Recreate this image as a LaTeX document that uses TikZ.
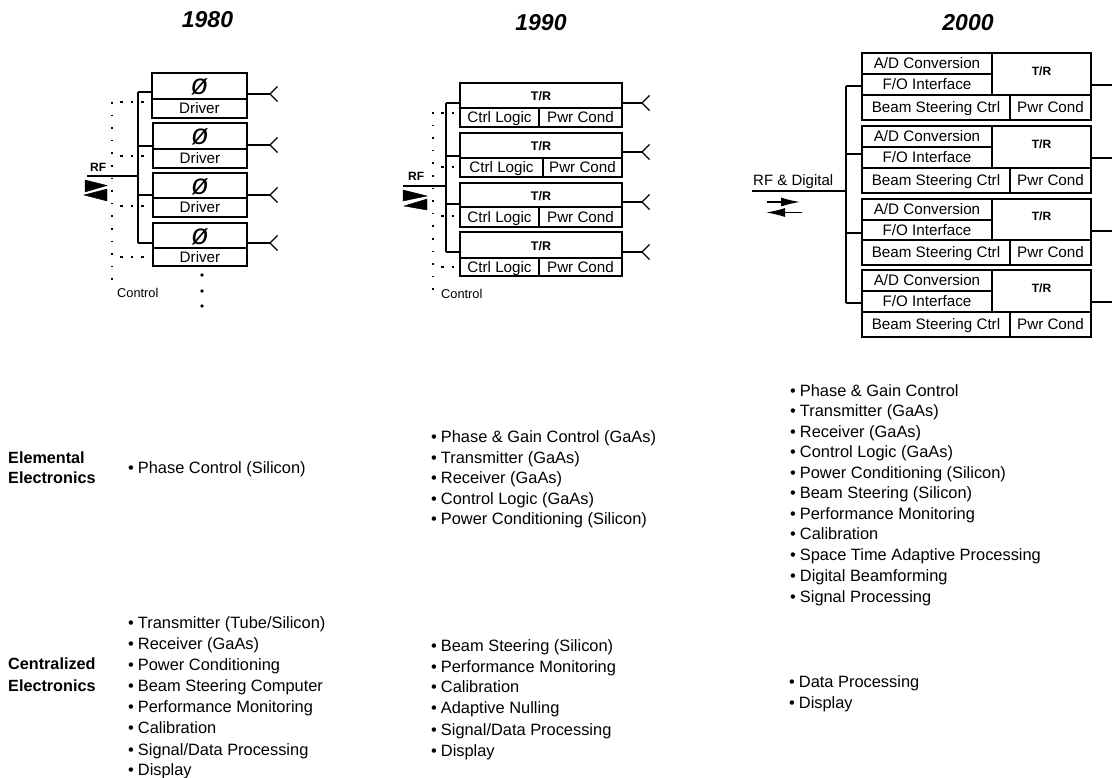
\documentclass[tikz,border=0pt]{standalone}
\usepackage{fontspec}
\setmainfont{Liberation Sans}
\usetikzlibrary{arrows.meta}
\newcommand{\fsz}[1]{\fontsize{#1}{#1}\selectfont}
\tikzset{
  cellbox/.style={draw=black,line width=1.3pt,inner sep=0pt,outer sep=0pt,font=\fsz{15.2},text height=10.8pt,text depth=0pt,align=center},
  wire/.style={draw=black,line width=1.3pt},
  ctrl/.style={draw=black,line width=1.3pt,dash pattern=on 1.6pt off 11pt},
  ctrlh/.style={draw=black,line width=1.1pt,dash pattern=on 2.5pt off 8pt},
  item/.style={anchor=west,inner sep=0pt,font=\fsz{16.4},text height=11.7pt,text depth=0pt},
  head/.style={anchor=west,inner sep=0pt,font=\bfseries\fsz{16.2},text height=11.7pt,text depth=0pt},
  yeartitle/.style={inner sep=0pt,font=\bfseries\itshape\fsz{23}},
  small/.style={inner sep=0pt,anchor=west,font=\fsz{12.8},text height=9pt,text depth=0pt},
  bigarrow/.style={fill=black,draw=black,line width=.4pt},
  dotmark/.style={circle,fill=black,inner sep=0pt,minimum size=3.6pt}
}
\newcommand{\mycell}[6]{\node[cellbox,minimum width={(#4-#2)*1pt},minimum height={(#5-#3)*1pt}] (#1) at ({(#2+#4)/2},{(#3+#5)/2}) {#6};}
\newcommand{\stub}[4]{\coordinate (#1) at (#2,#3); \draw[wire] (#1) -- (#1 -| #4.west);}
\newcommand{\antenna}[5]{\coordinate (#1) at (#3,#4); \coordinate (#1u) at (#3+7.5,#4-7.5); \coordinate (#1d) at (#3+7.5,#4+7.5);
  \draw[wire] (#2.east |- #1) -- (#1); \draw[wire] (#1u) -- (#1) -- (#1d);}
\newcommand{\phig}{\raisebox{-3.5pt}{\itshape\fsz{29}ø}}
\newcommand{\trt}{\bfseries\fsz{12.5}T/R}
\newcommand{\trb}{\bfseries\fsz{12}\raisebox{4pt}{T/R}}
\begin{document}
\begin{tikzpicture}[x=1pt,y=-1pt]
\useasboundingbox (0,0) rectangle (1112,778);
\node[yeartitle] (y1) at (207.5,20) {1980};
\node[yeartitle] (y2) at (541,23) {1990};
\node[yeartitle] (y3) at (968,23) {2000};

% ---------- 1980
\mycell{aa}{152}{73}{247}{99}{\phig}
\mycell{ab}{152}{99}{247}{118}{Driver}
\mycell{ba}{153}{123}{247}{149}{\phig}
\mycell{bb}{153}{149}{247}{168}{Driver}
\mycell{ca}{153}{173}{247}{198}{\phig}
\mycell{cb}{153}{198}{247}{217}{Driver}
\mycell{da}{153}{223}{247}{248}{\phig}
\mycell{db}{153}{248}{247}{266}{Driver}
\stub{s1}{138}{92}{aa}
\stub{s2}{138}{146}{ba}
\stub{s3}{138}{195}{ca}
\stub{s4}{138}{243}{da}
\draw[wire] (s1) -- (s4);
\coordinate (rf1r) at (138,176); \coordinate (rf1l) at (87,176);
\draw[wire] (rf1l) -- (rf1r);
\antenna{an1}{aa}{270}{94}{}
\antenna{an2}{ba}{270}{145}{}
\antenna{an3}{ca}{270}{195}{}
\antenna{an4}{da}{270}{243}{}
\coordinate (c1t) at (112,102); \coordinate (c1b) at (112,287);
\draw[ctrl] (c1t) -- (c1b);
\foreach \yy/\nn in {102/ab,156/bb,206/cb,257/db}{
  \coordinate (h) at (120,\yy);
  \draw[ctrlh] (h) -- (h -| \nn.west);
}
\node[small,font=\bfseries\fsz{12}] (rf1) at (90,167) {RF};
\node[small] (ctl1) at (117,293) {Control};
\filldraw[bigarrow] (85,180) -- (107,185.5) -- (85,192) -- cycle;
\filldraw[bigarrow] (107,189) -- (84,195) -- (107,201) -- cycle;
\node[dotmark] (d1) at (202,275) {};
\node[dotmark] (d2) at (202,291) {};
\node[dotmark] (d3) at (202,306) {};

% ---------- 1990
\mycell{ea}{460}{83}{622}{108}{\trt}
\mycell{eb}{460}{108}{539}{127}{Ctrl Logic}
\mycell{ec}{539}{108}{622}{127}{Pwr Cond}
\mycell{fa}{460}{133}{622}{158}{\trt}
\mycell{fb}{460}{158}{543}{177}{Ctrl Logic}
\mycell{fc}{543}{158}{622}{177}{Pwr Cond}
\mycell{ga}{460}{183}{622}{207}{\trt}
\mycell{gb}{460}{207}{539}{227}{Ctrl Logic}
\mycell{gc}{539}{207}{622}{227}{Pwr Cond}
\mycell{ha}{460}{232}{622}{258}{\trt}
\mycell{hb}{460}{258}{539}{276}{Ctrl Logic}
\mycell{hc}{539}{258}{622}{276}{Pwr Cond}
\stub{t1}{446}{103}{ea}
\stub{t2}{446}{156}{fa}
\stub{t3}{446}{204}{ga}
\stub{t4}{446}{252}{ha}
\draw[wire] (t1) -- (t4);
\coordinate (rf2r) at (446,186); \coordinate (rf2l) at (403,186);
\draw[wire] (rf2l) -- (rf2r);
\antenna{bn1}{ea}{642}{103}{}
\antenna{bn2}{fa}{642}{152}{}
\antenna{bn3}{ga}{642}{202}{}
\antenna{bn4}{ha}{642}{252}{}
\coordinate (c2t) at (433,112); \coordinate (c2b) at (433,301);
\draw[ctrl] (c2t) -- (c2b);
\foreach \yy/\nn in {113/eb,167/fb,216/gb,267/hb}{
  \coordinate (h) at (441,\yy);
  \draw[ctrlh] (h) -- (h -| \nn.west);
}
\node[small,font=\bfseries\fsz{12}] (rf2) at (408,176) {RF};
\node[small] (ctl2) at (441,294) {Control};
\filldraw[bigarrow] (403,190) -- (427,196) -- (403,201) -- cycle;
\filldraw[bigarrow] (427,199) -- (404,206) -- (427,210) -- cycle;

% ---------- 2000
\mycell{ia}{862}{53}{992}{74}{A/D Conversion}
\mycell{ib}{862}{74}{992}{95}{F/O Interface}
\mycell{ic}{992}{53}{1091}{95}{\trb}
\mycell{id}{862}{95}{1010}{120}{Beam Steering Ctrl}
\mycell{ie}{1010}{95}{1091}{120}{Pwr Cond}
\mycell{ja}{862}{126}{992}{147}{A/D Conversion}
\mycell{jb}{862}{147}{992}{168}{F/O Interface}
\mycell{jc}{992}{126}{1091}{168}{\trb}
\mycell{jd}{862}{168}{1010}{193}{Beam Steering Ctrl}
\mycell{je}{1010}{168}{1091}{193}{Pwr Cond}
\mycell{ka}{862}{199}{992}{220}{A/D Conversion}
\mycell{kb}{862}{220}{992}{240}{F/O Interface}
\mycell{kc}{992}{199}{1091}{240}{\trb}
\mycell{kd}{862}{240}{1010}{265}{Beam Steering Ctrl}
\mycell{ke}{1010}{240}{1091}{265}{Pwr Cond}
\mycell{la}{862}{270}{992}{291}{A/D Conversion}
\mycell{lb}{862}{291}{992}{312}{F/O Interface}
\mycell{lc}{992}{270}{1091}{312}{\trb}
\mycell{ld}{862}{312}{1010}{337}{Beam Steering Ctrl}
\mycell{le}{1010}{312}{1091}{337}{Pwr Cond}
\stub{u1}{846}{86}{ib}
\stub{u2}{846}{154}{jb}
\stub{u3}{846}{233}{kb}
\stub{u4}{846}{303}{lb}
\draw[wire] (u1) -- (u4);
\coordinate (rf3r) at (846,191); \coordinate (rf3l) at (752,191);
\draw[wire] (rf3l) -- (rf3r);
\foreach \yy/\nn in {85/ic,158/jc,231/kc,302/lc}{
  \coordinate (h) at (1112,\yy);
  \draw[wire] (\nn.east |- h) -- (h);
}
\node[item,font=\fsz{15},text height=10.8pt] (rf3) at (753,180) {RF \& Digital};
\coordinate (ar1a) at (767,202); \coordinate (ar1b) at (800,202);
\coordinate (ar2a) at (802,212.5); \coordinate (ar2b) at (766,212.5);
\draw[wire,-{Latex[length=19pt,width=9pt]}] (ar1a) -- (ar1b);
\draw[wire,-{Latex[length=19pt,width=9pt]}] (ar2a) -- (ar2b);

% ---------- lists
\node[head] (h1) at (8,458) {Elemental};
\node[head] (h2) at (8,478) {Electronics};
\node[head] (h3) at (8,664) {Centralized};
\node[head] (h4) at (8,686) {Electronics};
\newcommand{\bul}[3]{\node[item] at (#1,#2) {•\hspace{4pt}#3};}
\bul{128}{468}{Phase Control (Silicon)}
\bul{128}{623}{Transmitter (Tube/Silicon)}
\bul{128}{644}{Receiver (GaAs)}
\bul{128}{665}{Power Conditioning}
\bul{128}{686}{Beam Steering Computer}
\bul{128}{707}{Performance Monitoring}
\bul{128}{728}{Calibration}
\bul{128}{750}{Signal/Data Processing}
\bul{128}{770}{Display}
\bul{431}{437}{Phase \& Gain Control (GaAs)}
\bul{431}{458}{Transmitter (GaAs)}
\bul{431}{478}{Receiver (GaAs)}
\bul{431}{499}{Control Logic (GaAs)}
\bul{431}{519}{Power Conditioning (Silicon)}
\bul{431}{646}{Beam Steering (Silicon)}
\bul{431}{667}{Performance Monitoring}
\bul{431}{687}{Calibration}
\bul{431}{708}{Adaptive Nulling}
\bul{431}{730}{Signal/Data Processing}
\bul{431}{751}{Display}
\bul{790}{391}{Phase \& Gain Control}
\bul{790}{411}{Transmitter (GaAs)}
\bul{790}{432}{Receiver (GaAs)}
\bul{790}{452}{Control Logic (GaAs)}
\bul{790}{473}{Power Conditioning (Silicon)}
\bul{790}{493}{Beam Steering (Silicon)}
\bul{790}{514}{Performance Monitoring}
\bul{790}{534}{Calibration}
\bul{790}{555}{Space Time Adaptive Processing}
\bul{790}{576}{Digital Beamforming}
\bul{790}{597}{Signal Processing}
\bul{789}{682}{Data Processing}
\bul{789}{703}{Display}
\end{tikzpicture}
\end{document}
